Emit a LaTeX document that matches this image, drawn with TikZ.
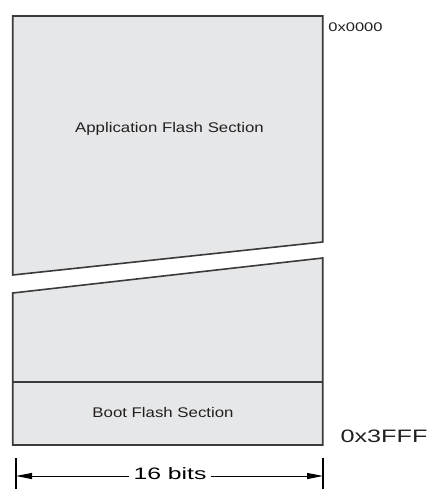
\documentclass[tikz,border=0pt]{standalone}
\usepackage{fontspec}
\usepackage{graphicx}
\setmainfont{Liberation Sans}
\usetikzlibrary{arrows.meta}
\definecolor{secfill}{HTML}{E6E7E8}
\definecolor{secline}{HTML}{3A3A3A}
\definecolor{txt}{HTML}{231F20}
\tikzset{
  section/.style={fill=secfill, draw=secline, line width=1.6pt, line join=miter},
  label/.style={text=txt, inner sep=0pt},
  dimline/.style={draw=black, line width=1pt},
  dimarrow/.style={dimline, -{Triangle[length=16pt,width=6pt]}},
}
\begin{document}
\begin{tikzpicture}[x=1pt,y=-1pt]
\useasboundingbox (0,0) rectangle (433,489);
% upper section
\draw[section] (12.7,16) -- (322.7,16) -- (322.7,242) -- (12.7,275) -- cycle;
% lower section
\draw[section] (12.7,293) -- (322.7,258) -- (322.7,445) -- (12.7,445) -- cycle;
\draw[secline, line width=1.6pt] (12.7,382) -- (322.7,382);
% labels
\node[label] (app) at (169.5,129) {\fontsize{14}{16}\selectfont\scalebox{1.2}[1]{Application Flash Section}};
\node[label] (boot) at (163,412) {\fontsize{14}{16}\selectfont\scalebox{1.2}[1]{Boot Flash Section}};
\node[label] (start) at (355.5,27.5) {\fontsize{12.5}{14}\selectfont\scalebox{1.32}[1]{0x0000}};
\node[label] (end) at (384,436.5) {\fontsize{18}{20}\selectfont\scalebox{1.4}[1]{0x3FFF}};
% dimension
\coordinate (ltop) at (16,458);
\coordinate (lbot) at (16,489);
\coordinate (rtop) at (323,458);
\coordinate (rbot) at (323,489);
\draw[dimline, line width=1.2pt] (ltop) -- (lbot);
\draw[dimline, line width=1.2pt] (rtop) -- (rbot);
\coordinate (la) at (16,476);
\coordinate (ra) at (323,476);
\node[label, inner xsep=4pt, text=black] (bits) at (170,474) {\fontsize{16.5}{18}\selectfont\scalebox{1.5}[1]{16 bits}};
\draw[dimarrow] (bits.west |- la) -- (la);
\draw[dimarrow] (bits.east |- ra) -- (ra);
\end{tikzpicture}
\end{document}
